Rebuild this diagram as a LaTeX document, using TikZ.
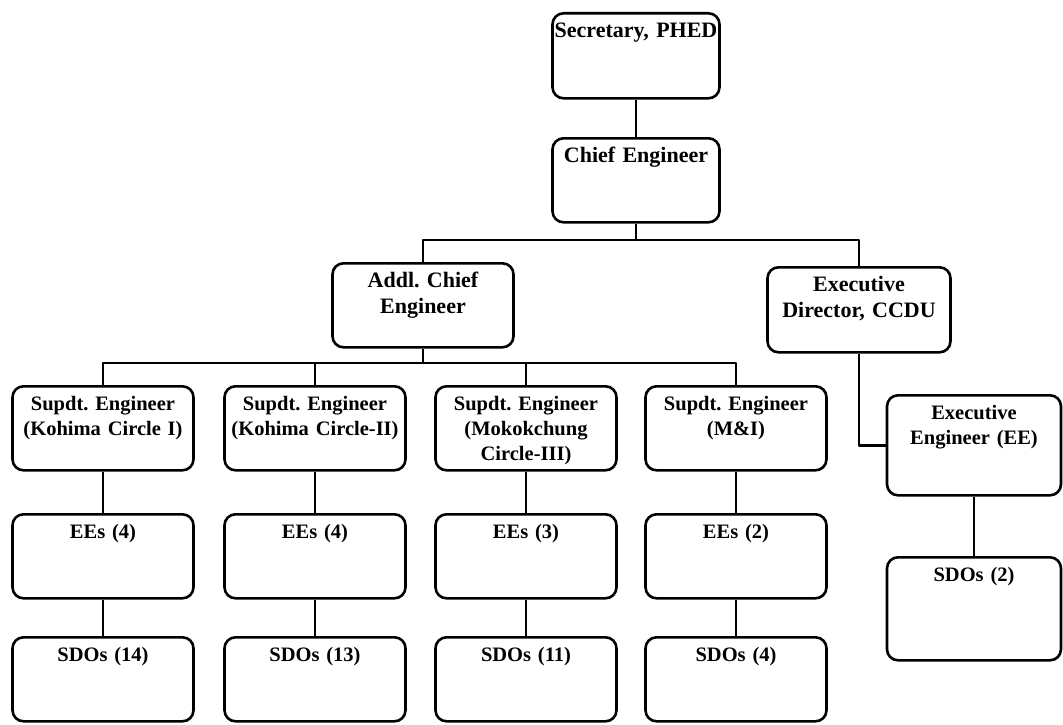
\documentclass[tikz,border=0pt]{standalone}
\usepackage{fontspec}
\setmainfont{Liberation Serif}
\frenchspacing

\tikzset{
  office/.style={draw, rounded corners=11pt, line width=2.6pt, anchor=north, align=center,
    text width=#1, inner xsep=3pt, inner ysep=11pt, text height=13pt, text depth=49pt,
    font=\fontsize{20.5}{25}\selectfont\bfseries},
  office/.default=175pt,
  head/.style={font=\fontsize{22}{26}\selectfont\bfseries},
  link/.style={line width=2.6pt}
}

\begin{document}
\begin{tikzpicture}[x=1pt, y=-1pt, line join=round]
\useasboundingbox (0,0) rectangle (1063,725);
% top of the chart
\node[office=165pt, head, inner xsep=1pt, text depth=50pt] (sec) at (636,12) {Secretary, PHED};
\node[office=165pt, head, inner xsep=1pt] (chief) at (636,137) {Chief Engineer};
\node[office, head]                        (addl)  at (423,262) {Addl. Chief\\Engineer};
\node[office=177pt, head, text depth=50pt] (ed)    at (859,266) {Executive\\Director, CCDU};
\node[office=168pt, text depth=65pt]       (ee)    at (974,394) {Executive\\Engineer (EE)};
\node[office=168pt, text depth=68pt]       (sdoE)  at (974,556) {SDOs (2)};
% circles
\node[office] (se1) at (103,385) {Supdt. Engineer\\(Kohima Circle I)};
\node[office] (se2) at (315,385) {Supdt. Engineer\\(Kohima Circle-II)};
\node[office] (se3) at (526,385) {Supdt. Engineer\\(Mokokchung\\Circle-III)};
\node[office] (se4) at (736,385) {Supdt. Engineer\\(M\&I)};
\node[office] (ee1) at (103,513) {EEs (4)};
\node[office] (ee2) at (315,513) {EEs (4)};
\node[office] (ee3) at (526,513) {EEs (3)};
\node[office] (ee4) at (736,513) {EEs (2)};
\node[office] (sdo1) at (103,636) {SDOs (14)};
\node[office] (sdo2) at (315,636) {SDOs (13)};
\node[office] (sdo3) at (526,636) {SDOs (11)};
\node[office] (sdo4) at (736,636) {SDOs (4)};
% joints
\coordinate (bar1) at (636,240);
\coordinate (bar2) at (423,363);
% links
\draw[link] (sec) -- (chief);
\draw[link] (chief) -- (bar1);
\draw[link] (addl.north) |- (bar1) -| (ed.north);
\draw[link] (ed.south) |- (ee.west);
\draw[link] (ee) -- (sdoE);
\draw[link] (addl.south) -- (bar2);
\draw[link] (se1.north) |- (bar2) -| (se4.north);
\draw[link] (se2.north) |- (bar2);
\draw[link] (se3.north) |- (bar2);
\draw[link] (se1) -- (ee1);
\draw[link] (se2) -- (ee2);
\draw[link] (se3) -- (ee3);
\draw[link] (se4) -- (ee4);
\draw[link] (ee1) -- (sdo1);
\draw[link] (ee2) -- (sdo2);
\draw[link] (ee3) -- (sdo3);
\draw[link] (ee4) -- (sdo4);
\end{tikzpicture}
\end{document}
